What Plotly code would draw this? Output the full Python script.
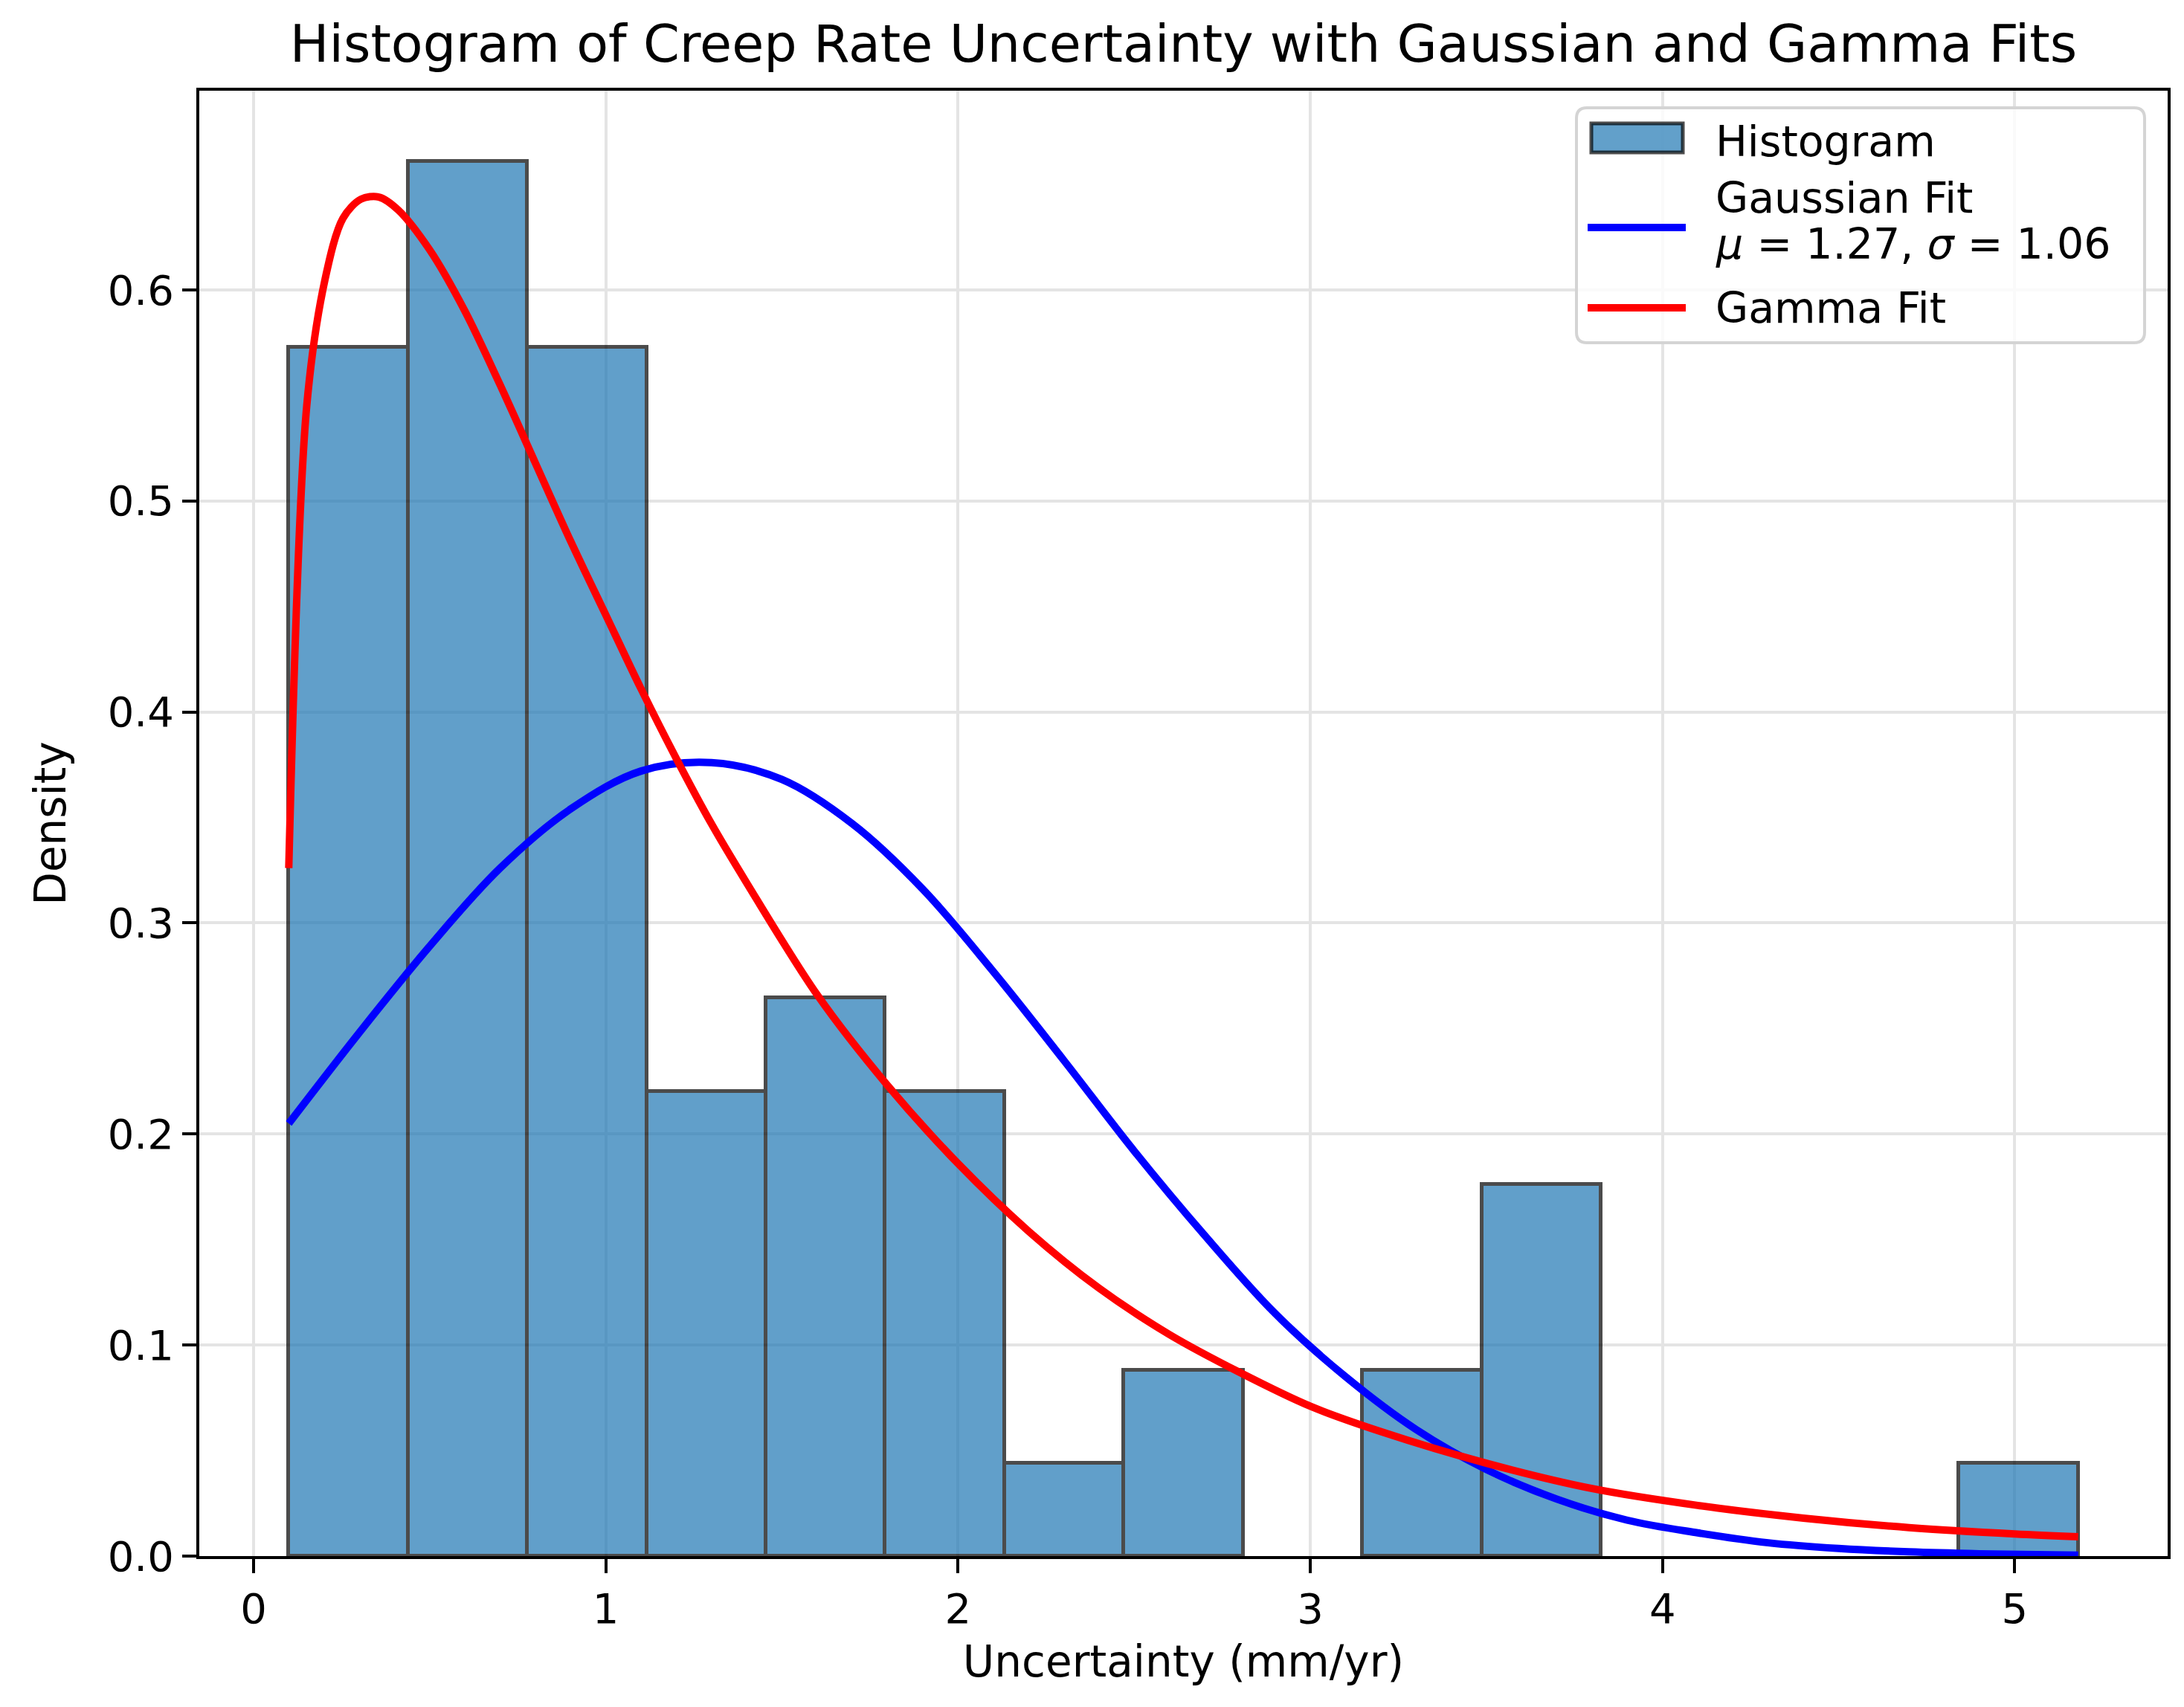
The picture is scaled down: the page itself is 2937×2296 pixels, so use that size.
import plotly.graph_objects as go

# histogram: 15 equal bins between the smallest and largest uncertainty
data_min = 0.10
data_max = 5.18
bin_counts = [13, 15, 13, 5, 6, 5, 1, 2, 0, 2, 4, 0, 0, 0, 1]

# Gaussian fit curve
gauss_x = [0.10, 0.30, 0.50, 0.70, 0.90, 1.10, 1.30, 1.50, 1.70, 1.90, 2.10, 2.30, 2.50,
           2.70, 2.90, 3.10, 3.30, 3.50, 3.70, 3.90, 4.10, 4.30, 4.50, 4.70, 4.90, 5.18]
gauss_y = [0.205, 0.248, 0.289, 0.326, 0.354, 0.372, 0.376, 0.368, 0.347, 0.316, 0.277, 0.235, 0.192,
           0.152, 0.115, 0.085, 0.060, 0.041, 0.027, 0.017, 0.011, 0.0063, 0.0036, 0.0020, 0.0011, 0.0004]

# Gamma fit curve
gamma_x = [0.100, 0.151, 0.203, 0.254, 0.305, 0.356, 0.41, 0.50, 0.60, 0.70, 0.80, 0.90,
           1.00, 1.10, 1.20, 1.30, 1.40, 1.60, 1.80, 2.00, 2.20, 2.40, 2.60, 2.80,
           3.00, 3.20, 3.50, 3.80, 4.10, 4.40, 4.70, 5.00, 5.18]
gamma_y = [0.326, 0.545, 0.605, 0.634, 0.643, 0.644, 0.638, 0.619, 0.590, 0.555, 0.518, 0.481,
           0.446, 0.411, 0.378, 0.347, 0.319, 0.266, 0.223, 0.186, 0.154, 0.127, 0.105, 0.087,
           0.071, 0.059, 0.044, 0.032, 0.024, 0.018, 0.0135, 0.0105, 0.0092]

x_ticks = [0, 1, 2, 3, 4, 5]
y_ticks = [0.0, 0.1, 0.2, 0.3, 0.4, 0.5, 0.6]

n_bins = len(bin_counts)
bin_width = (data_max - data_min) / n_bins
n_total = sum(bin_counts)
bin_centers = [data_min + (i + 0.5) * bin_width for i in range(n_bins)]
density = [c / (n_total * bin_width) if c > 0 else None for c in bin_counts]

font = "DejaVu Sans"
W, H = 2937, 2296
L, R, T, B = 260, 30, 114, 211
plot_w = W - L - R
plot_h = H - T - B


def fx(px):
    # pixel x -> paper x
    return (px - L) / plot_w


def fy(py):
    # pixel y -> paper y
    return (H - B - py) / plot_h


fig = go.Figure()

fig.add_trace(go.Bar(
    x=bin_centers, y=density, width=bin_width,
    name="Histogram",
    marker=dict(color="#1f77b4", line=dict(color="black", width=5)),
    opacity=0.7,
))

fig.add_trace(go.Scatter(
    x=gauss_x, y=gauss_y, mode="lines",
    line=dict(color="blue", width=10, shape="spline", smoothing=1.0),
    name="Gaussian Fit",
))

fig.add_trace(go.Scatter(
    x=gamma_x, y=gamma_y, mode="lines",
    line=dict(color="red", width=10, shape="spline", smoothing=0.9),
    name="Gamma Fit",
))

# legend drawn by hand so symbols match the matplotlib look
bx0, bx1, by0, by1, rad = 2112, 2876, 137, 453, 14
rx, ry = rad / plot_w, rad / plot_h
x0, x1, y0, y1 = fx(bx0), fx(bx1), fy(by1), fy(by0)
box_path = (
    f"M{x0 + rx},{y0} L{x1 - rx},{y0} Q{x1},{y0} {x1},{y0 + ry} "
    f"L{x1},{y1 - ry} Q{x1},{y1} {x1 - rx},{y1} "
    f"L{x0 + rx},{y1} Q{x0},{y1} {x0},{y1 - ry} "
    f"L{x0},{y0 + ry} Q{x0},{y0} {x0 + rx},{y0} Z"
)
shapes = [
    dict(type="path", path=box_path, xref="paper", yref="paper",
         fillcolor="rgba(255,255,255,0.8)", line=dict(color="#d4d4d4", width=4), layer="above"),
    dict(type="rect", xref="paper", yref="paper",
         x0=fx(2132), x1=fx(2255), y0=fy(197), y1=fy(158),
         fillcolor="rgba(31,119,180,0.7)", line=dict(color="rgba(0,0,0,0.7)", width=5), layer="above"),
    dict(type="line", xref="paper", yref="paper",
         x0=fx(2127), x1=fx(2259), y0=fy(298), y1=fy(298),
         line=dict(color="blue", width=10), layer="above"),
    dict(type="line", xref="paper", yref="paper",
         x0=fx(2127), x1=fx(2259), y0=fy(406), y1=fy(406),
         line=dict(color="red", width=10), layer="above"),
]

legend_text = [
    ("Histogram", 182),
    ("Gaussian Fit", 258),
    ("<i>μ</i> = 1.27, <i>σ</i> = 1.06", 320),
    ("Gamma Fit", 406),
]
annotations = [
    dict(text=t, x=fx(2297), y=fy(py), xref="paper", yref="paper",
         xanchor="left", yanchor="middle", showarrow=False,
         font=dict(family=font, size=57, color="black"))
    for t, py in legend_text
]

axis_common = dict(
    showline=True, linecolor="black", linewidth=4, mirror=True,
    ticks="outside", ticklen=19, tickwidth=4, tickcolor="black",
    showgrid=True, gridcolor="#e4e4e4", gridwidth=4,
    zeroline=False,
    tickfont=dict(family=font, size=56, color="black"),
)

fig.update_xaxes(
    range=[-0.154, 5.434], tickvals=x_ticks,
    title=dict(text="Uncertainty (mm/yr)", font=dict(family=font, size=58, color="black"), standoff=20),
    **axis_common,
)
fig.update_yaxes(
    range=[0, 0.6944], tickvals=y_ticks, tickformat=".1f",
    title=dict(text="Density", font=dict(family=font, size=58, color="black"), standoff=38),
    **axis_common,
)

fig.update_layout(
    width=W, height=H,
    margin=dict(l=L, r=R, t=T, b=B),
    plot_bgcolor="white", paper_bgcolor="white",
    bargap=0,
    showlegend=False,
    shapes=shapes,
    annotations=annotations,
    title=dict(
        text="Histogram of Creep Rate Uncertainty with Gaussian and Gamma Fits",
        font=dict(family=font, size=70, color="black"),
        x=0.5, xref="paper", xanchor="center",
        y=1 - 50 / H, yref="container", yanchor="middle",
    ),
)

fig.write_html("out.html")
